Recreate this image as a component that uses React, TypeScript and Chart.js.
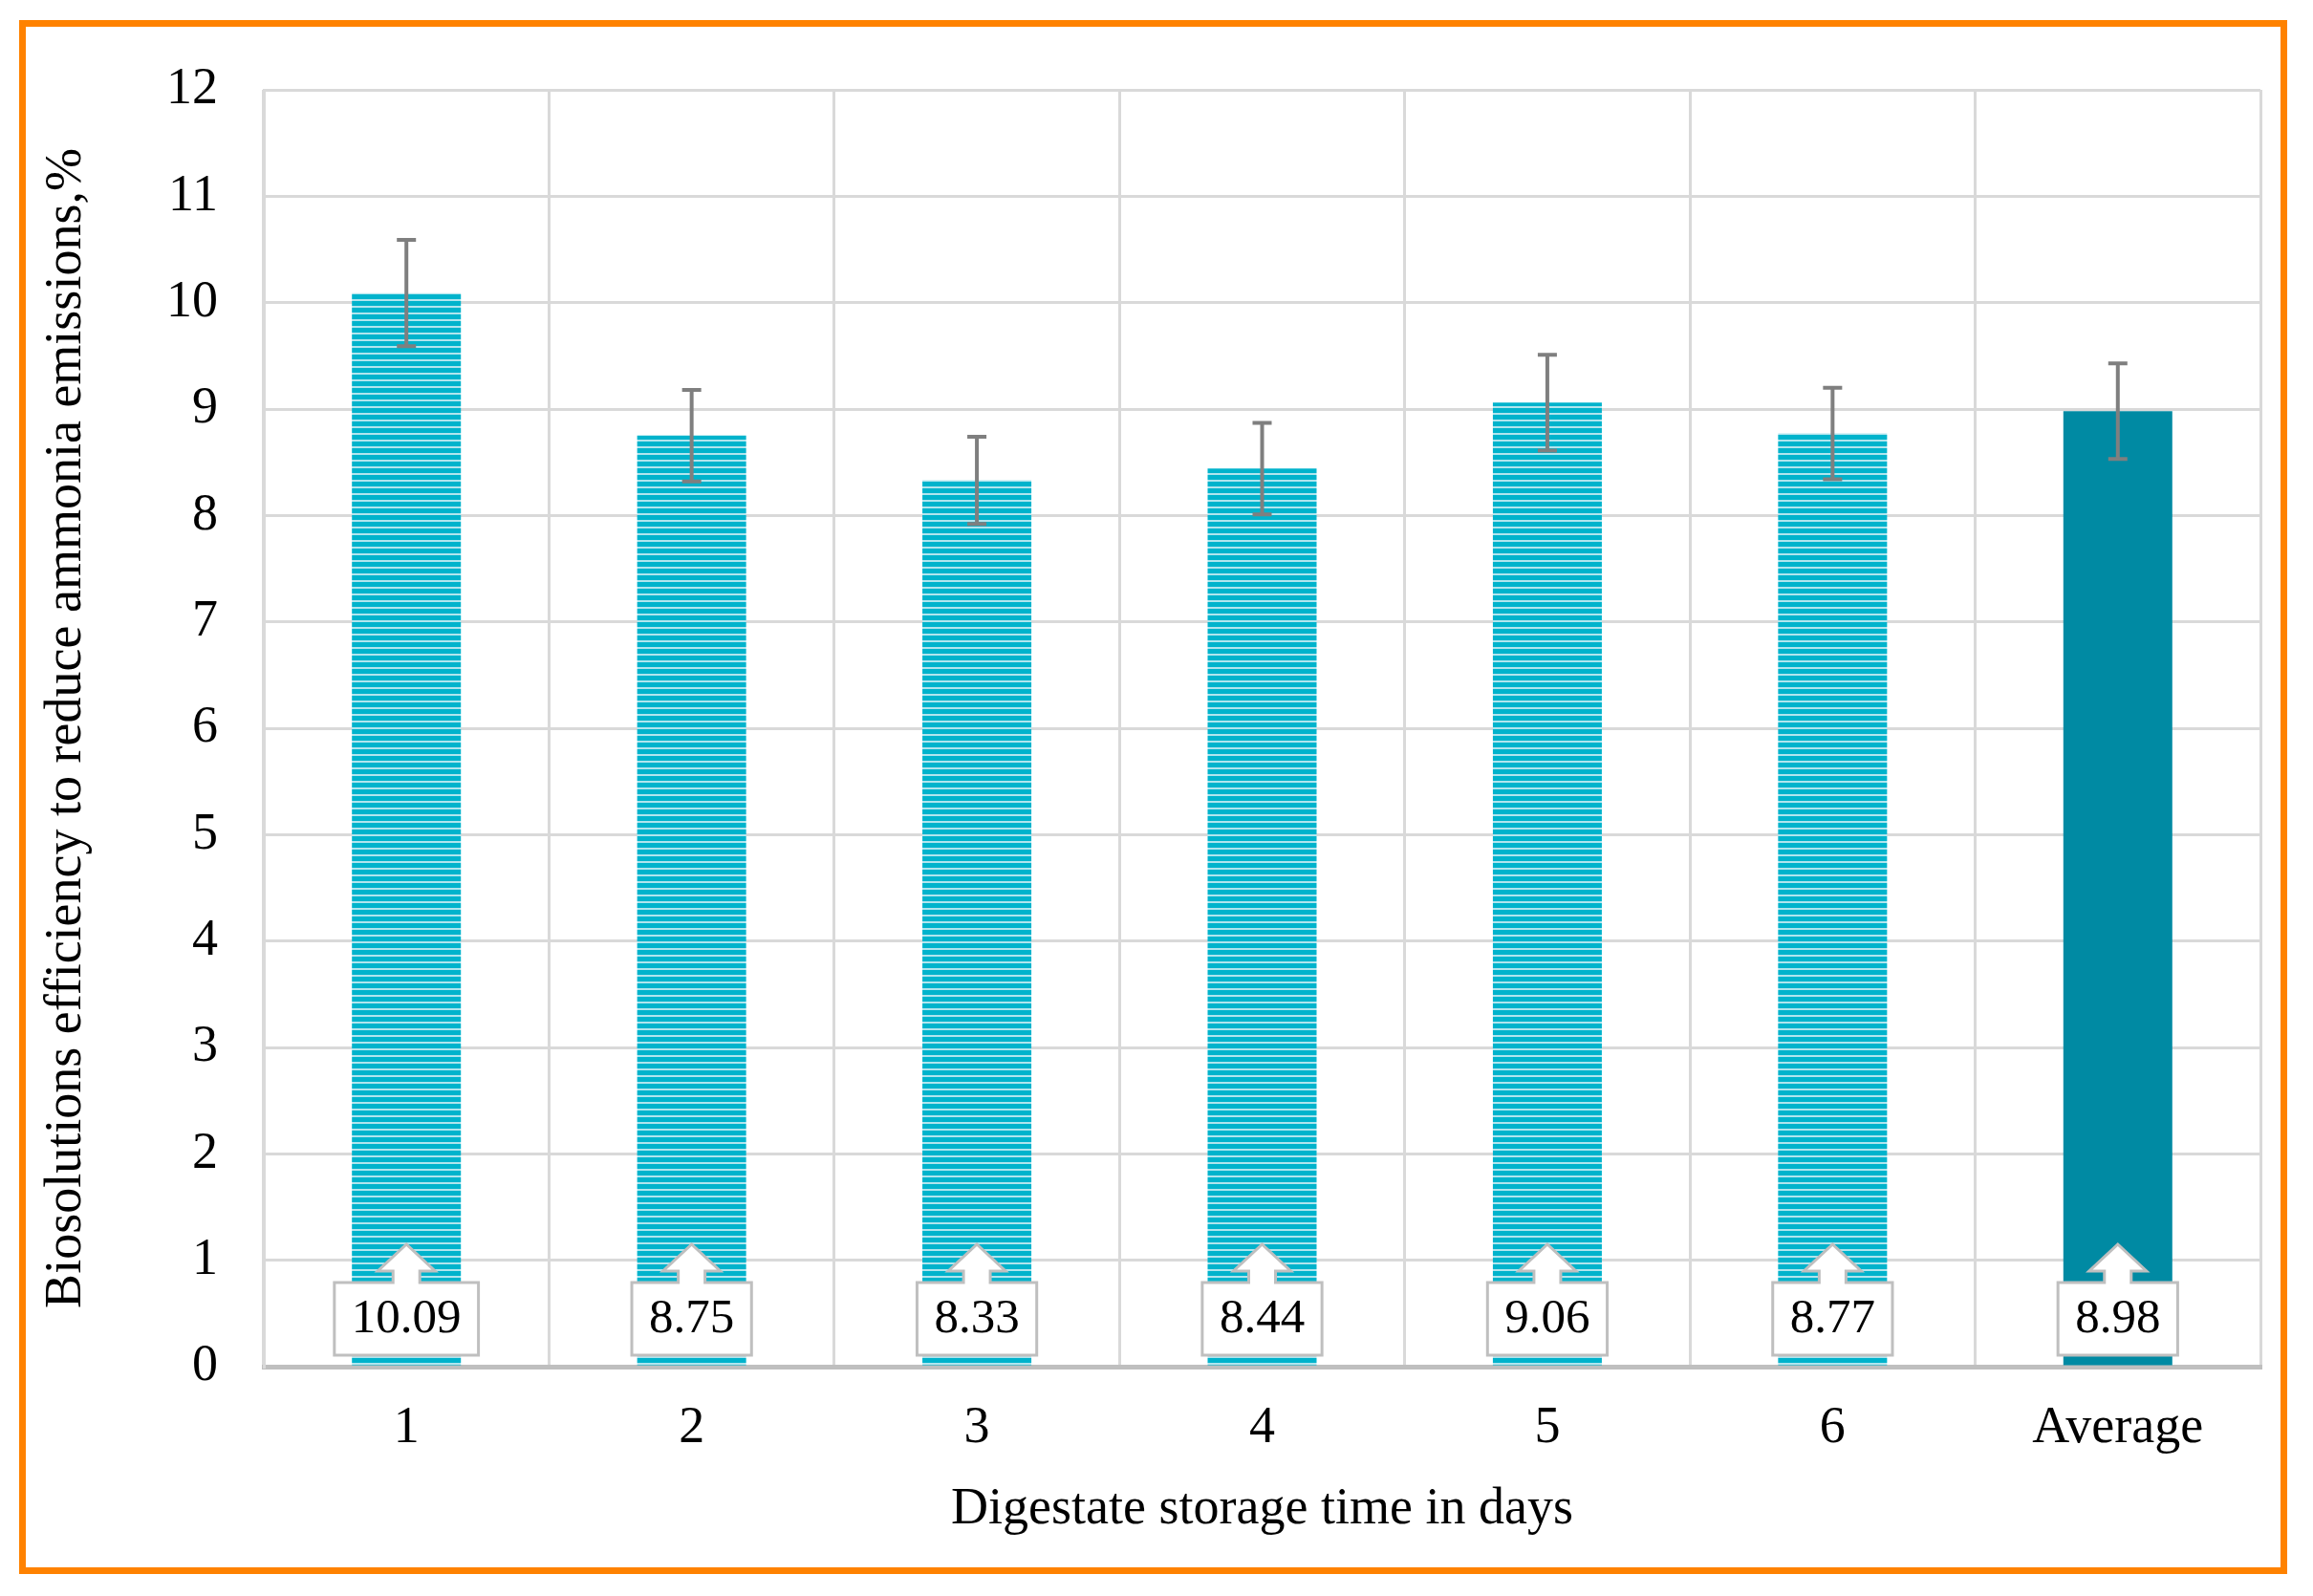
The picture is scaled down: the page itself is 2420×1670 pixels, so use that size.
import React, { useEffect, useRef } from "react";
import { Chart, registerables } from "chart.js";

Chart.register(...registerables);

// ---- Data ----
const categories = ["1", "2", "3", "4", "5", "6", "Average"];
const efficiency = [10.09, 8.75, 8.33, 8.44, 9.06, 8.77, 8.98];
const errorMargins = [0.5, 0.43, 0.41, 0.43, 0.45, 0.43, 0.45];
const yMin = 0;
const yMax = 12;
const yStep = 1;
const yAxisTitle = "Biosolutions efficiency to reduce ammonia emissions,%";
const xAxisTitle = "Digestate storage time in days";

const FONT = "'Liberation Serif', 'Times New Roman', serif";

function makeStripePattern(ctx: CanvasRenderingContext2D): CanvasPattern | string {
  const c = document.createElement("canvas");
  c.width = 8;
  c.height = 7;
  const g = c.getContext("2d");
  if (!g) return "#2bbcd2";
  g.fillStyle = "#b0e5ee";
  g.fillRect(0, 0, 8, 7);
  g.fillStyle = "#00b3cc";
  g.fillRect(0, 0, 8, 5);
  return ctx.createPattern(c, "repeat") || "#2bbcd2";
}

const errorBarPlugin = {
  id: "errorBars",
  afterDatasetsDraw(chart: any) {
    const meta = chart.getDatasetMeta(0);
    const y = chart.scales.y;
    const ctx = chart.ctx as CanvasRenderingContext2D;
    ctx.save();
    ctx.strokeStyle = "#7f7f7f";
    ctx.lineWidth = 4;
    meta.data.forEach((bar: any, i: number) => {
      const v = efficiency[i];
      const e = errorMargins[i];
      const top = y.getPixelForValue(v + e);
      const bot = y.getPixelForValue(v - e);
      const x = bar.x;
      ctx.beginPath();
      ctx.moveTo(x, top);
      ctx.lineTo(x, bot);
      ctx.moveTo(x - 10, top);
      ctx.lineTo(x + 10, top);
      ctx.moveTo(x - 10, bot);
      ctx.lineTo(x + 10, bot);
      ctx.stroke();
    });
    ctx.restore();
  },
};

const calloutLabelPlugin = {
  id: "calloutLabels",
  afterDatasetsDraw(chart: any) {
    const meta = chart.getDatasetMeta(0);
    const y = chart.scales.y;
    const ctx = chart.ctx as CanvasRenderingContext2D;
    const base = y.getPixelForValue(0);
    ctx.save();
    ctx.font = `51px ${FONT}`;
    meta.data.forEach((bar: any, i: number) => {
      const text = efficiency[i].toFixed(2);
      const tw = ctx.measureText(text).width;
      const w = tw + 36;
      const h = 76;
      const cx = bar.x;
      const bottom = base - 12;
      const top = bottom - h;
      const left = cx - w / 2;
      const right = cx + w / 2;
      const stemHalf = 14;
      const headHalf = 30;
      const stemTop = top - 12;
      const tip = stemTop - 28;
      ctx.beginPath();
      ctx.moveTo(left, bottom);
      ctx.lineTo(left, top);
      ctx.lineTo(cx - stemHalf, top);
      ctx.lineTo(cx - stemHalf, stemTop);
      ctx.lineTo(cx - headHalf, stemTop);
      ctx.lineTo(cx, tip);
      ctx.lineTo(cx + headHalf, stemTop);
      ctx.lineTo(cx + stemHalf, stemTop);
      ctx.lineTo(cx + stemHalf, top);
      ctx.lineTo(right, top);
      ctx.lineTo(right, bottom);
      ctx.closePath();
      ctx.fillStyle = "#ffffff";
      ctx.fill();
      ctx.strokeStyle = "#bfbfbf";
      ctx.lineWidth = 3;
      ctx.lineJoin = "miter";
      ctx.stroke();
      ctx.fillStyle = "#000000";
      ctx.textAlign = "center";
      ctx.textBaseline = "middle";
      ctx.fillText(text, cx, (top + bottom) / 2 + 1);
    });
    ctx.restore();
  },
};

export default function App() {
  const canvasRef = useRef<HTMLCanvasElement | null>(null);

  useEffect(() => {
    const canvas = canvasRef.current;
    if (!canvas) return;
    const ctx = canvas.getContext("2d");
    if (!ctx) return;
    const stripes = makeStripePattern(ctx);
    const colors = categories.map((c, i) => (i === categories.length - 1 ? "#008aa3" : stripes));

    const chart = new Chart(ctx, {
      type: "bar",
      data: {
        labels: categories,
        datasets: [
          {
            data: efficiency,
            backgroundColor: colors as any,
            borderWidth: 0,
            barPercentage: 0.382,
            categoryPercentage: 1,
          },
        ],
      },
      options: {
        responsive: false,
        maintainAspectRatio: false,
        devicePixelRatio: 1,
        animation: false,
        layout: { padding: { left: 37, top: 94, right: 55, bottom: 58 } },
        plugins: {
          legend: { display: false },
          tooltip: { enabled: false },
        },
        scales: {
          x: {
            grid: {
              offset: true,
              color: "#d9d9d9",
              lineWidth: 3,
              drawTicks: false,
            },
            border: { color: "#bfbfbf", width: 5 },
            ticks: {
              color: "#000000",
              padding: 32,
              font: { family: FONT, size: 54 },
            },
            title: {
              display: true,
              text: xAxisTitle,
              color: "#000000",
              padding: 0,
              font: { family: FONT, size: 54 },
            },
            afterFit: (scale: any) => {
              scale.height = 182;
            },
          },
          y: {
            min: yMin,
            max: yMax,
            grid: {
              color: "#d9d9d9",
              lineWidth: 3,
              drawTicks: false,
            },
            border: { color: "#d9d9d9", width: 3 },
            ticks: {
              stepSize: yStep,
              color: "#000000",
              padding: 48,
              font: { family: FONT, size: 54 },
            },
            title: {
              display: true,
              text: yAxisTitle,
              color: "#000000",
              padding: 0,
              font: { family: FONT, size: 54 },
            },
            afterFit: (scale: any) => {
              scale.width = 239;
            },
          },
        },
      },
      plugins: [errorBarPlugin, calloutLabelPlugin],
    });

    return () => {
      chart.destroy();
    };
  }, []);

  return (
    <div style={{ position: "absolute", left: 0, top: 0, width: 2420, height: 1670, background: "#ffffff" }}>
      <canvas ref={canvasRef} width={2420} height={1670} style={{ display: "block", width: 2420, height: 1670 }} />
      <div
        style={{
          position: "absolute",
          left: 20,
          top: 21,
          width: 2373,
          height: 1626,
          border: "7px solid #ff8200",
          boxSizing: "border-box",
          pointerEvents: "none",
        }}
      />
    </div>
  );
}
